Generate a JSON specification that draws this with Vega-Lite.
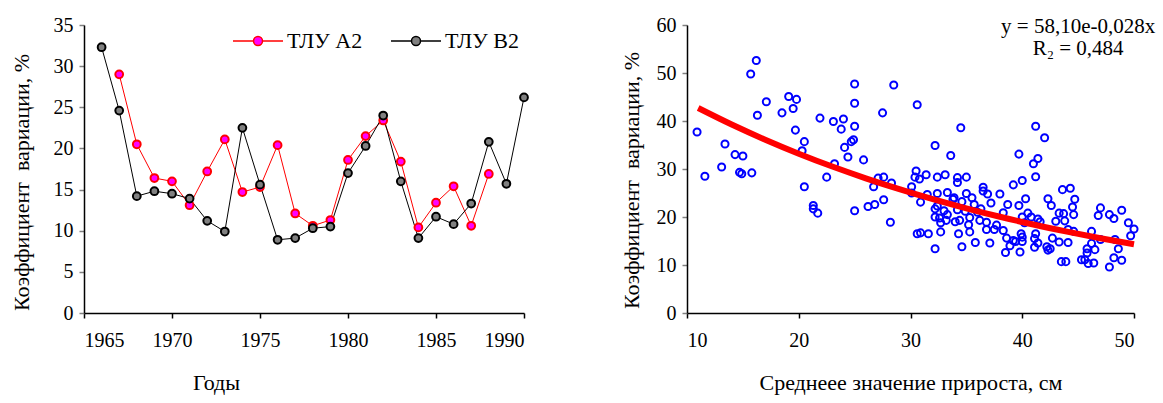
{
  "$schema": "https://vega.github.io/schema/vega-lite/v6.json",
  "background": "white",
  "padding": {"left": 10, "top": 15, "right": 3, "bottom": 5},
  "config": {
    "view": {"stroke": null},
    "font": "Liberation Serif",
    "axis": {
      "labelFont": "Liberation Serif", "titleFont": "Liberation Serif",
      "labelFontSize": 20, "titleFontSize": 22, "titleFontWeight": "normal",
      "labelColor": "black", "titleColor": "black",
      "domainColor": "black", "domainWidth": 1.5,
      "tickColor": "black", "tickSize": 5, "tickWidth": 1.5, "grid": false, "labelPadding": 6
    },
    "axisX": {"labelPadding": 12},
    "axisY": {"tickColor": "#808080"}
  },
  "datasets": {
    "series": [
      {"year": 1967, "series": "ТЛУ A2", "cv": 29.0},
      {"year": 1968, "series": "ТЛУ A2", "cv": 20.5},
      {"year": 1969, "series": "ТЛУ A2", "cv": 16.4},
      {"year": 1970, "series": "ТЛУ A2", "cv": 16.0},
      {"year": 1971, "series": "ТЛУ A2", "cv": 13.1},
      {"year": 1972, "series": "ТЛУ A2", "cv": 17.2},
      {"year": 1973, "series": "ТЛУ A2", "cv": 21.1},
      {"year": 1974, "series": "ТЛУ A2", "cv": 14.7},
      {"year": 1975, "series": "ТЛУ A2", "cv": 15.3},
      {"year": 1976, "series": "ТЛУ A2", "cv": 20.4},
      {"year": 1977, "series": "ТЛУ A2", "cv": 12.1},
      {"year": 1978, "series": "ТЛУ A2", "cv": 10.6},
      {"year": 1979, "series": "ТЛУ A2", "cv": 11.3},
      {"year": 1980, "series": "ТЛУ A2", "cv": 18.6},
      {"year": 1981, "series": "ТЛУ A2", "cv": 21.5},
      {"year": 1982, "series": "ТЛУ A2", "cv": 23.4},
      {"year": 1983, "series": "ТЛУ A2", "cv": 18.4},
      {"year": 1984, "series": "ТЛУ A2", "cv": 10.4},
      {"year": 1985, "series": "ТЛУ A2", "cv": 13.4},
      {"year": 1986, "series": "ТЛУ A2", "cv": 15.4},
      {"year": 1987, "series": "ТЛУ A2", "cv": 10.6},
      {"year": 1988, "series": "ТЛУ A2", "cv": 16.9},
      {"year": 1966, "series": "ТЛУ B2", "cv": 32.3},
      {"year": 1967, "series": "ТЛУ B2", "cv": 24.6},
      {"year": 1968, "series": "ТЛУ B2", "cv": 14.2},
      {"year": 1969, "series": "ТЛУ B2", "cv": 14.8},
      {"year": 1970, "series": "ТЛУ B2", "cv": 14.5},
      {"year": 1971, "series": "ТЛУ B2", "cv": 13.9},
      {"year": 1972, "series": "ТЛУ B2", "cv": 11.2},
      {"year": 1973, "series": "ТЛУ B2", "cv": 9.9},
      {"year": 1974, "series": "ТЛУ B2", "cv": 22.5},
      {"year": 1975, "series": "ТЛУ B2", "cv": 15.6},
      {"year": 1976, "series": "ТЛУ B2", "cv": 8.9},
      {"year": 1977, "series": "ТЛУ B2", "cv": 9.1},
      {"year": 1978, "series": "ТЛУ B2", "cv": 10.3},
      {"year": 1979, "series": "ТЛУ B2", "cv": 10.5},
      {"year": 1980, "series": "ТЛУ B2", "cv": 17.0},
      {"year": 1981, "series": "ТЛУ B2", "cv": 20.3},
      {"year": 1982, "series": "ТЛУ B2", "cv": 24.0},
      {"year": 1983, "series": "ТЛУ B2", "cv": 16.0},
      {"year": 1984, "series": "ТЛУ B2", "cv": 9.1},
      {"year": 1985, "series": "ТЛУ B2", "cv": 11.7},
      {"year": 1986, "series": "ТЛУ B2", "cv": 10.8},
      {"year": 1987, "series": "ТЛУ B2", "cv": 13.3},
      {"year": 1988, "series": "ТЛУ B2", "cv": 20.8},
      {"year": 1989, "series": "ТЛУ B2", "cv": 15.7},
      {"year": 1990, "series": "ТЛУ B2", "cv": 26.2}
    ],
    "scatter": [
      {"g": 16.2, "cv": 52.6}, {"g": 15.7, "cv": 49.8}, {"g": 25.0, "cv": 47.7}, {"g": 28.5, "cv": 47.5},
      {"g": 17.1, "cv": 44.0}, {"g": 19.1, "cv": 45.1}, {"g": 19.8, "cv": 44.5}, {"g": 25.0, "cv": 43.7},
      {"g": 30.6, "cv": 43.4}, {"g": 16.3, "cv": 41.2}, {"g": 18.5, "cv": 41.7}, {"g": 19.5, "cv": 42.6},
      {"g": 27.5, "cv": 41.7}, {"g": 21.9, "cv": 40.6}, {"g": 23.1, "cv": 39.9}, {"g": 24.0, "cv": 40.4},
      {"g": 23.8, "cv": 38.3}, {"g": 25.0, "cv": 38.9}, {"g": 10.9, "cv": 37.7}, {"g": 19.7, "cv": 38.1},
      {"g": 20.5, "cv": 35.7}, {"g": 20.3, "cv": 33.8}, {"g": 24.9, "cv": 36.1}, {"g": 24.7, "cv": 35.7},
      {"g": 24.1, "cv": 34.5}, {"g": 24.4, "cv": 32.5}, {"g": 25.8, "cv": 31.9}, {"g": 23.2, "cv": 31.1},
      {"g": 13.4, "cv": 35.2}, {"g": 14.3, "cv": 33.0}, {"g": 15.0, "cv": 32.7}, {"g": 13.1, "cv": 30.4},
      {"g": 14.7, "cv": 29.3}, {"g": 14.9, "cv": 29.0}, {"g": 15.8, "cv": 29.2}, {"g": 11.6, "cv": 28.5},
      {"g": 22.5, "cv": 28.3}, {"g": 27.1, "cv": 28.1}, {"g": 27.6, "cv": 28.3}, {"g": 30.5, "cv": 29.6},
      {"g": 20.5, "cv": 26.3}, {"g": 21.3, "cv": 22.4}, {"g": 21.3, "cv": 21.7}, {"g": 21.7, "cv": 20.8},
      {"g": 25.0, "cv": 21.3}, {"g": 26.2, "cv": 22.2}, {"g": 26.8, "cv": 22.6}, {"g": 27.6, "cv": 23.6},
      {"g": 28.2, "cv": 18.9}, {"g": 26.7, "cv": 26.3}, {"g": 28.3, "cv": 27.1}, {"g": 30.1, "cv": 26.3},
      {"g": 30.6, "cv": 16.5},
      {"g": 34.5, "cv": 38.6}, {"g": 41.2, "cv": 38.9}, {"g": 42.0, "cv": 36.5}, {"g": 32.2, "cv": 34.9},
      {"g": 33.6, "cv": 32.8}, {"g": 39.7, "cv": 33.1}, {"g": 41.4, "cv": 32.2}, {"g": 41.0, "cv": 31.1},
      {"g": 41.2, "cv": 28.4}, {"g": 40.0, "cv": 27.6}, {"g": 39.2, "cv": 26.7}, {"g": 31.4, "cv": 28.8},
      {"g": 30.8, "cv": 27.9}, {"g": 30.4, "cv": 28.3}, {"g": 32.4, "cv": 28.3}, {"g": 33.1, "cv": 28.8},
      {"g": 34.2, "cv": 28.2}, {"g": 34.2, "cv": 27.2}, {"g": 35.0, "cv": 28.3}, {"g": 36.5, "cv": 26.2},
      {"g": 43.6, "cv": 25.7}, {"g": 44.3, "cv": 26.0},
      {"g": 30.1, "cv": 25.0}, {"g": 31.5, "cv": 24.7}, {"g": 32.4, "cv": 24.9}, {"g": 33.3, "cv": 25.1},
      {"g": 33.9, "cv": 24.0}, {"g": 35.0, "cv": 24.9}, {"g": 35.5, "cv": 24.0}, {"g": 36.5, "cv": 25.4},
      {"g": 36.9, "cv": 24.8}, {"g": 38.0, "cv": 24.8}, {"g": 40.3, "cv": 23.8}, {"g": 39.7, "cv": 22.4},
      {"g": 38.7, "cv": 22.6}, {"g": 37.2, "cv": 22.9}, {"g": 42.3, "cv": 23.8}, {"g": 42.6, "cv": 22.4},
      {"g": 44.7, "cv": 23.7}, {"g": 44.5, "cv": 22.1}, {"g": 44.6, "cv": 20.5}, {"g": 47.0, "cv": 21.9},
      {"g": 46.8, "cv": 20.3}, {"g": 47.8, "cv": 20.5}, {"g": 48.2, "cv": 19.7}, {"g": 48.9, "cv": 21.4},
      {"g": 49.5, "cv": 18.8}, {"g": 50.0, "cv": 17.5}, {"g": 49.7, "cv": 16.1}, {"g": 30.9, "cv": 23.1},
      {"g": 32.2, "cv": 21.7}, {"g": 32.2, "cv": 20.0}, {"g": 32.4, "cv": 22.3}, {"g": 33.0, "cv": 21.3},
      {"g": 33.8, "cv": 23.7}, {"g": 34.2, "cv": 21.5}, {"g": 34.6, "cv": 23.2}, {"g": 34.9, "cv": 21.2},
      {"g": 35.3, "cv": 19.9}, {"g": 35.7, "cv": 22.6}, {"g": 36.0, "cv": 21.0}, {"g": 36.3, "cv": 21.7},
      {"g": 32.6, "cv": 19.8}, {"g": 32.7, "cv": 18.8}, {"g": 33.2, "cv": 19.3}, {"g": 33.3, "cv": 20.5},
      {"g": 34.0, "cv": 19.0}, {"g": 34.4, "cv": 19.3}, {"g": 35.2, "cv": 18.4}, {"g": 36.2, "cv": 19.3},
      {"g": 36.8, "cv": 18.9}, {"g": 36.8, "cv": 17.4}, {"g": 37.5, "cv": 17.4}, {"g": 37.7, "cv": 18.3},
      {"g": 38.3, "cv": 17.2}, {"g": 38.6, "cv": 15.6}, {"g": 38.3, "cv": 20.9}, {"g": 40.0, "cv": 20.0},
      {"g": 40.5, "cv": 20.8}, {"g": 40.8, "cv": 20.0}, {"g": 41.4, "cv": 19.6}, {"g": 41.6, "cv": 19.0},
      {"g": 40.2, "cv": 18.8}, {"g": 39.9, "cv": 16.5}, {"g": 40.0, "cv": 15.8}, {"g": 39.2, "cv": 15.1},
      {"g": 39.4, "cv": 14.9}, {"g": 38.9, "cv": 14.0}, {"g": 40.0, "cv": 14.9}, {"g": 38.5, "cv": 12.6},
      {"g": 39.8, "cv": 12.7}, {"g": 41.2, "cv": 16.5}, {"g": 41.1, "cv": 15.5}, {"g": 41.4, "cv": 14.6},
      {"g": 41.1, "cv": 13.7}, {"g": 42.2, "cv": 13.8}, {"g": 42.5, "cv": 13.4}, {"g": 42.3, "cv": 13.1},
      {"g": 42.7, "cv": 15.6}, {"g": 43.3, "cv": 14.8}, {"g": 44.1, "cv": 14.7}, {"g": 43.0, "cv": 19.1},
      {"g": 43.3, "cv": 20.8}, {"g": 43.7, "cv": 20.7}, {"g": 43.8, "cv": 19.2}, {"g": 44.1, "cv": 17.4},
      {"g": 44.6, "cv": 17.0}, {"g": 43.5, "cv": 10.7}, {"g": 43.9, "cv": 10.7}, {"g": 46.2, "cv": 17.0},
      {"g": 46.2, "cv": 14.5}, {"g": 45.8, "cv": 13.4}, {"g": 46.5, "cv": 13.2}, {"g": 45.8, "cv": 12.5},
      {"g": 45.3, "cv": 11.1}, {"g": 45.6, "cv": 11.1}, {"g": 45.9, "cv": 10.3}, {"g": 46.4, "cv": 10.4},
      {"g": 47.0, "cv": 15.3}, {"g": 48.3, "cv": 15.3}, {"g": 48.6, "cv": 13.4}, {"g": 48.2, "cv": 11.5},
      {"g": 48.9, "cv": 11.0}, {"g": 47.8, "cv": 9.6}, {"g": 30.9, "cv": 16.7}, {"g": 31.6, "cv": 16.5},
      {"g": 32.7, "cv": 16.9}, {"g": 34.3, "cv": 16.5}, {"g": 35.3, "cv": 16.9}, {"g": 32.2, "cv": 13.4},
      {"g": 34.6, "cv": 13.8}, {"g": 35.8, "cv": 14.7}, {"g": 37.1, "cv": 14.6}
    ],
    "trend": [
      {"g": 11, "cv": 42.70}, {"g": 14, "cv": 39.26}, {"g": 17, "cv": 36.10}, {"g": 20, "cv": 33.19},
      {"g": 23, "cv": 30.51}, {"g": 26, "cv": 28.06}, {"g": 29, "cv": 25.80}, {"g": 32, "cv": 23.72},
      {"g": 35, "cv": 21.81}, {"g": 38, "cv": 20.05}, {"g": 41, "cv": 18.43}, {"g": 44, "cv": 16.95},
      {"g": 47, "cv": 15.58}, {"g": 50, "cv": 14.33}
    ],
    "eq": [
      {"label": "y = 58,10e-0,028x\nR₂ = 0,484"}
    ]
  },
  "spacing": 88,
  "hconcat": [
    {
      "width": 440,
      "height": 288,
      "data": {"name": "series"},
      "encoding": {
        "x": {"field": "year", "type": "quantitative",
              "scale": {"domain": [1965, 1990], "nice": false, "zero": false},
              "axis": {"values": [1965, 1970, 1975, 1980, 1985, 1990], "format": "d", "title": "Годы",
                       "titlePadding": 22, "titleX": 132}},
        "y": {"field": "cv", "type": "quantitative",
              "scale": {"domain": [0, 35], "nice": false},
              "axis": {"values": [0, 5, 10, 15, 20, 25, 30, 35], "title": "Коэффициент\u00a0 вариации, %", "titlePadding": 20, "titleY": 157}}
      },
      "layer": [
        {
          "mark": {"type": "line", "strokeWidth": 1},
          "encoding": {
            "color": {"field": "series", "type": "nominal", "scale": {"range": ["#ff0000", "#000000"]}, "legend": null}
          }
        },
        {
          "mark": {"type": "circle", "size": 60, "strokeWidth": 2, "opacity": 1},
          "encoding": {
            "fill": {"field": "series", "type": "nominal", "scale": {"range": ["#ff00ff", "#808080"]},
                     "legend": {"orient": "none", "legendX": 163, "legendY": 5, "direction": "horizontal", "title": null,
                                "symbolType": "M-2.5,0L-0.45,0M0.45,0L2.5,0M0.45,0C0.45,0.2485,0.2485,0.45,0,0.45C-0.2485,0.45,-0.45,0.2485,-0.45,0C-0.45,-0.2485,-0.2485,-0.45,0,-0.45C0.2485,-0.45,0.45,-0.2485,0.45,0Z",
                                "symbolSize": 400, "symbolStrokeWidth": 1.5, "symbolOpacity": 1,
                                "labelFont": "Liberation Serif", "labelFontSize": 22, "labelColor": "black",
                                "labelOffset": 18, "columnPadding": 25, "padding": 0}},
            "stroke": {"field": "series", "type": "nominal", "scale": {"range": ["#ff0000", "#000000"]},
                       "legend": {"orient": "none", "legendX": 163, "legendY": 5, "direction": "horizontal", "title": null,
                                "symbolType": "M-2.5,0L-0.45,0M0.45,0L2.5,0M0.45,0C0.45,0.2485,0.2485,0.45,0,0.45C-0.2485,0.45,-0.45,0.2485,-0.45,0C-0.45,-0.2485,-0.2485,-0.45,0,-0.45C0.2485,-0.45,0.45,-0.2485,0.45,0Z",
                                "symbolSize": 400, "symbolStrokeWidth": 1.5, "symbolOpacity": 1,
                                "labelFont": "Liberation Serif", "labelFontSize": 22, "labelColor": "black",
                                "labelOffset": 18, "columnPadding": 25, "padding": 0}}
          }
        }
      ]
    },
    {
      "width": 447,
      "height": 288,
      "encoding": {
        "x": {"type": "quantitative", "scale": {"domain": [10, 50], "nice": false, "zero": false},
              "axis": {"values": [10, 20, 30, 40, 50], "title": "Среднеее значение прироста, см", "titlePadding": 22}},
        "y": {"type": "quantitative", "scale": {"domain": [0, 60], "nice": false},
              "axis": {"values": [0, 10, 20, 30, 40, 50, 60], "title": "Коэффициент\u00a0 вариации, %", "titlePadding": 13, "titleY": 155}}
      },
      "layer": [
        {
          "data": {"name": "scatter"},
          "mark": {"type": "point", "shape": "circle", "size": 50, "strokeWidth": 2, "color": "#0000ff", "opacity": 1},
          "encoding": {"x": {"field": "g", "type": "quantitative"}, "y": {"field": "cv", "type": "quantitative"}}
        },
        {
          "data": {"name": "trend"},
          "mark": {"type": "line", "color": "#ff0000", "strokeWidth": 6, "interpolate": "monotone"},
          "encoding": {"x": {"field": "g", "type": "quantitative"}, "y": {"field": "cv", "type": "quantitative"}}
        },
        {
          "data": {"name": "eq"},
          "mark": {"type": "text", "lineBreak": "\n", "font": "Liberation Serif", "fontSize": 21, "align": "center", "baseline": "alphabetic", "lineHeight": 22, "color": "black"},
          "encoding": {"text": {"field": "label", "type": "nominal"}, "x": {"datum": 45}, "y": {"datum": 58.3}}
        }
      ]
    }
  ]
}
